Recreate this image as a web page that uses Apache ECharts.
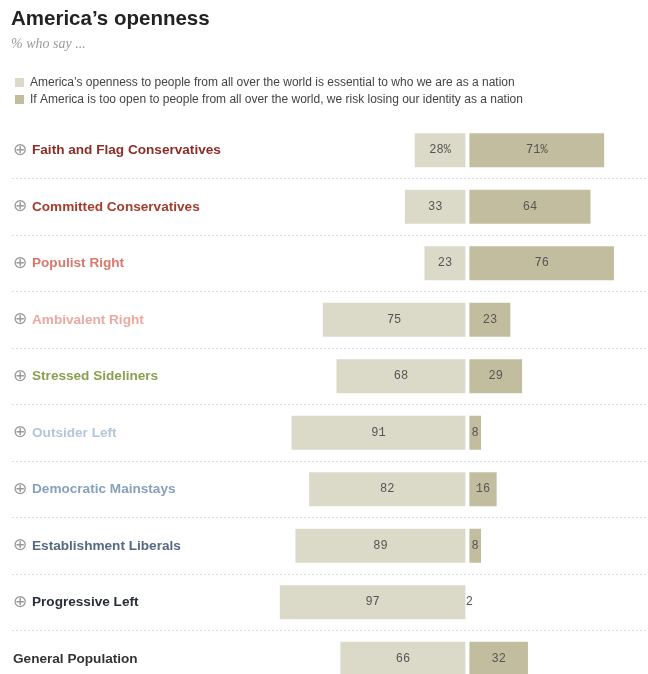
<!DOCTYPE html>
<html>
<head>
<meta charset="utf-8">
<script src="https://cdn.jsdelivr.net/npm/echarts@6/dist/echarts.min.js"></script>
<style>
  html, body { margin: 0; padding: 0; background: #fff; }
  #chart { width: 648px; height: 674px; }
</style>
</head>
<body>
<div id="chart"></div>
<script>
// Typology groups, top to bottom
const categories = [
  'Faith and Flag Conservatives',
  'Committed Conservatives',
  'Populist Right',
  'Ambivalent Right',
  'Stressed Sideliners',
  'Outsider Left',
  'Democratic Mainstays',
  'Establishment Liberals',
  'Progressive Left',
  'General Population'
];

// % saying openness is essential to who we are as a nation
const essential = [28, 33, 23, 75, 68, 91, 82, 89, 97, 66];
// % saying too much openness risks losing our identity
const riskLosing = [71, 64, 76, 23, 29, 8, 16, 8, 2, 32];

const seriesNames = [
  'America\u2019s openness to people from all over the world is essential to who we are as a nation',
  'If America is too open to people from all over the world, we risk losing our identity as a nation'
];

// Group label colours
const labelColors = [
  '#8c2d28', '#a63c2e', '#d7786e', '#ebaaa0', '#8a9f4f',
  '#b4c6d7', '#87a0be', '#556982', '#282d37', '#333333'
];

const chart = echarts.init(document.getElementById('chart'), null, { renderer: 'canvas' });

const barLabel = () => ({
  show: true,
  position: 'inside',
  fontFamily: 'Liberation Mono',
  fontSize: 12,
  color: '#555',
  formatter: p => Math.abs(p.value) + (p.dataIndex === 0 ? '%' : '')
});

chart.setOption({
  animation: false,
  backgroundColor: '#fff',
  title: [
    {
      text: 'America\u2019s openness',
      left: 11, top: 9, padding: 0,
      textStyle: { fontFamily: 'Liberation Sans', fontWeight: 'bold', fontSize: 20.5, color: '#222' }
    },
    {
      text: '% who say ...',
      left: 11, top: 37, padding: 0,
      textStyle: { fontFamily: 'Liberation Serif', fontStyle: 'italic', fontWeight: 'normal', fontSize: 14, color: '#9a9a9a' }
    }
  ],
  legend: {
    orient: 'vertical',
    left: 13, top: 76, padding: 0,
    itemWidth: 11, itemHeight: 11, itemGap: 4,
    icon: 'rect',
    selectedMode: false,
    textStyle: { fontFamily: 'Liberation Sans', fontSize: 12, lineHeight: 12, color: '#444' },
    data: seriesNames
  },
  grid: { left: 12, right: 0, top: 122, height: 565, containLabel: false, outerBoundsMode: 'none' },
  // zero line sits at the divide between the two bars of each row
  xAxis: {
    type: 'value',
    min: -233, max: 92.4,
    show: false
  },
  yAxis: {
    type: 'category',
    inverse: true,
    data: categories.map((c, i) => ({ value: c, textStyle: { color: labelColors[i] } })),
    axisLine: { show: false },
    axisTick: { show: false },
    axisLabel: {
      inside: true,
      margin: 1,
      interval: 0,
      fontFamily: 'Liberation Sans',
      fontWeight: 'bold',
      fontSize: 13.6,
      formatter: (v, i) => i === categories.length - 1 ? v : '{i|\u2295}' + v,
      rich: {
        i: { fontFamily: 'DejaVu Sans', fontWeight: 'normal', fontSize: 17, color: '#999', width: 19 }
      }
    },
    splitLine: {
      show: true,
      interval: 0,
      showMinLine: false,
      showMaxLine: false,
      lineStyle: { color: '#dadada', type: [2, 2], width: 1 }
    }
  },
  series: [
    {
      name: seriesNames[0],
      type: 'bar',
      stack: 'total',
      barWidth: 38,
      itemStyle: { color: '#dbd9c8', borderColor: '#fff', borderWidth: 2 },
      label: barLabel(),
      data: essential.map(v => -v)
    },
    {
      name: seriesNames[1],
      type: 'bar',
      stack: 'total',
      barWidth: 38,
      itemStyle: { color: '#c3bd9f', borderColor: '#fff', borderWidth: 2 },
      label: barLabel(),
      data: riskLosing
    }
  ]
});
</script>
</body>
</html>
